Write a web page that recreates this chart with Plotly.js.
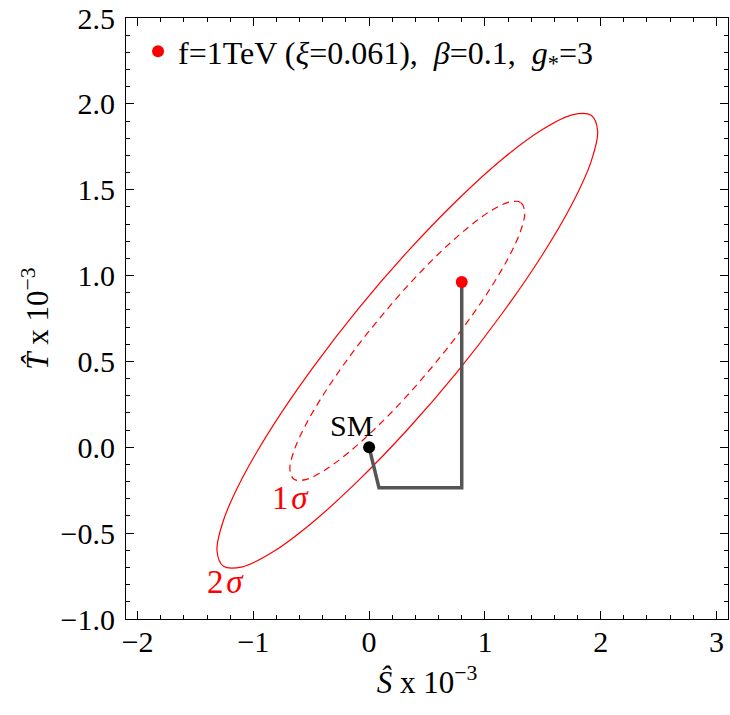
<!DOCTYPE html>
<html>
<head>
<meta charset="utf-8">
<script src="https://cdn.plot.ly/plotly-3.0.1.min.js"></script>
<style>html,body{margin:0;padding:0;background:#fff;}#chart{width:730px;height:715px;}</style>
</head>
<body>
<div id="chart"></div>
<script>
// 2-sigma (solid) contour: S-hat, T-hat (x 10^-3)
const outerS = [1.974, 1.918, 1.754, 1.493, 1.152, 0.756, 0.330, -0.096, -0.492, -0.833, -1.094, -1.258,
                -1.314, -1.258, -1.094, -0.833, -0.492, -0.096, 0.330, 0.756, 1.152, 1.493, 1.754, 1.918, 1.974];
const outerT = [1.841, 1.933, 1.936, 1.849, 1.679, 1.436, 1.138, 0.805, 0.458, 0.123, -0.178, -0.425,
                -0.601, -0.693, -0.696, -0.610, -0.439, -0.196, 0.102, 0.435, 0.782, 1.117, 1.418, 1.665, 1.841];
// 1-sigma (dashed) contour
const innerS = [1.344, 1.309, 1.208, 1.047, 0.837, 0.592, 0.330, 0.068, -0.177, -0.387, -0.548, -0.649,
                -0.684, -0.649, -0.548, -0.387, -0.177, 0.068, 0.330, 0.592, 0.837, 1.047, 1.208, 1.309, 1.344];
const innerT = [1.369, 1.426, 1.428, 1.375, 1.270, 1.121, 0.938, 0.733, 0.521, 0.315, 0.130, -0.021,
                -0.129, -0.186, -0.188, -0.135, -0.030, 0.119, 0.302, 0.507, 0.719, 0.925, 1.110, 1.261, 1.369];
// path from SM to model point
const pathS = [0, 0.085, 0.800, 0.800];
const pathT = [0, -0.235, -0.235, 0.962];
// points
const smS = [0], smT = [0];
const modelS = [0.800], modelT = [0.962];
const modelName = 'f=1TeV (<i>ξ</i>=0.061),&nbsp;&nbsp;<i>β</i>=0.1,&nbsp;&nbsp;<i>g</i><sub>*</sub>=3';
// labels
const labelText = ['SM', '1&#8202;<i>σ</i>', '2&#8202;<i>σ</i>'];
const labelS = [-0.15, -0.68, -1.24];
const labelT = [0.128, -0.295, -0.785];
const labelColor = ['#000000', '#ff0000', '#ff0000'];
const labelSize = [30, 33, 33];

const serif = 'Liberation Serif, Times New Roman, Times, serif';

const traces = [
  {x: outerS, y: outerT, mode: 'lines', line: {color: '#ff0000', width: 1.2, shape: 'spline', smoothing: 1}, showlegend: false, hoverinfo: 'skip'},
  {x: innerS, y: innerT, mode: 'lines', line: {color: '#ff0000', width: 1.2, dash: '7px,5px', shape: 'spline', smoothing: 1}, showlegend: false, hoverinfo: 'skip'},
  {x: pathS, y: pathT, mode: 'lines', line: {color: '#555555', width: 3.5}, showlegend: false},
  {x: smS, y: smT, mode: 'markers', marker: {color: '#000000', size: 12}, showlegend: false},
  {x: modelS, y: modelT, mode: 'markers', marker: {color: '#ff0000', size: 12}, name: modelName, showlegend: true}
];

const annotations = labelText.map((t, i) => ({
  x: labelS[i], y: labelT[i], xref: 'x', yref: 'y', text: t, showarrow: false,
  font: {family: serif, size: labelSize[i], color: labelColor[i]}
}));

const axisCommon = {
  showline: true, linecolor: '#000', linewidth: 1, mirror: 'allticks',
  ticks: 'inside', ticklen: 8, tickwidth: 1, tickcolor: '#000',
  showgrid: false, zeroline: false, ticklabeloverflow: 'allow',
  tickfont: {family: serif, size: 30, color: '#000'}
};

const layout = {
  width: 730, height: 715,
  margin: {l: 126, r: 2, t: 18, b: 96},
  paper_bgcolor: '#fff', plot_bgcolor: '#fff',
  font: {family: serif, color: '#000'},
  xaxis: Object.assign({}, axisCommon, {
    range: [-2.1, 3.1], dtick: 1, tick0: 0,
    minor: {dtick: 0.2, ticks: 'inside', ticklen: 4, tickcolor: '#000', showgrid: false},
    tickformat: 'd', ticklabelstandoff: -4,
    title: {text: '<i>Ŝ</i> x 10<sup>−3</sup>', font: {family: serif, size: 31}, standoff: 14}
  }),
  yaxis: Object.assign({}, axisCommon, {
    range: [-1.0, 2.5], dtick: 0.5, tick0: 0,
    minor: {dtick: 0.1, ticks: 'inside', ticklen: 4, tickcolor: '#000', showgrid: false},
    tickformat: '.1f', ticklabelstandoff: 4,
    title: {text: '<i>T̂</i> x 10<sup>−3</sup>', font: {family: serif, size: 31}, standoff: 2}
  }),
  showlegend: true,
  legend: {x: 0.02, y: 0.99, xanchor: 'left', yanchor: 'top', bgcolor: 'rgba(0,0,0,0)',
           font: {family: serif, size: 32, color: '#000'}, itemwidth: 30, tracegroupgap: 0},
  annotations: annotations
};

Plotly.newPlot('chart', traces, layout, {displayModeBar: false, staticPlot: true});
</script>
</body>
</html>
